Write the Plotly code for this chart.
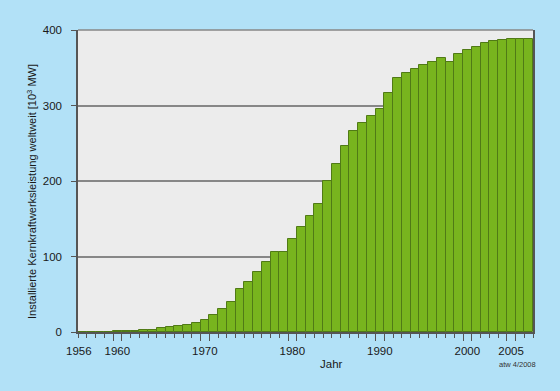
import plotly.graph_objects as go

years = list(range(1956, 2008))
capacity = [
    0.05, 0.1, 0.2, 0.4, 1.0, 1.0, 1.5, 2.5, 3.0, 4.8,
    6.0, 8.3, 9.7, 12.3, 16.3, 23.0, 30.0, 39.5, 56.5, 66.5,
    79.7, 93.1, 106.6, 106.2, 123.2, 139.5, 153.0, 169.5, 199.5, 223.1,
    246.8, 266.8, 277.0, 286.5, 295.8, 316.7, 336.4, 343.4, 348.3, 354.0,
    358.0, 362.4, 358.0, 368.2, 373.9, 377.0, 382.3, 384.9, 386.2, 388.0,
    387.5, 388.4,
]
label_years = [1956, 1960, 1970, 1980, 1990, 2000, 2005]
label_text = ["1956", "1960", "1970", "1980", "1990", "2000", "2005"]
long_tick_years = [1960, 1970, 1980, 1990, 2000, 2005]
y_ticks = [0, 100, 200, 300, 400]

BG = "rgb(178,225,247)"
PLOT_BG = "rgb(236,236,236)"
BAR = "rgb(120,180,30)"
BAR_EDGE = "rgb(80,122,22)"
GRID = "rgb(135,135,135)"
AXIS = "rgb(85,85,85)"
TXT = "rgb(25,25,25)"
FONT = "Liberation Sans, Arial, sans-serif"

boundaries = [y - 0.5 for y in years] + [years[-1] + 0.5]
long_ticks = []
for y in long_tick_years:
    long_ticks += [y - 0.5, y + 0.5]
# label positions (1956 label sits slightly left of its bar centre)
label_pos = [y - 0.4 if y == years[0] else y for y in label_years]

fig = go.Figure()
fig.add_trace(go.Bar(
    x=years, y=capacity, width=1.0,
    marker=dict(color=BAR, line=dict(color=BAR_EDGE, width=1)),
    hoverinfo="x+y", showlegend=False,
))
# invisible trace to carry the label axis
fig.add_trace(go.Scatter(x=[years[0], years[-1]], y=[0, 0], xaxis="x2",
                         mode="markers", marker=dict(opacity=0),
                         showlegend=False, hoverinfo="skip"))

xrange = [years[0] - 0.5, years[-1] + 0.5]
fig.update_layout(
    width=560, height=391,
    margin=dict(l=78, r=27, t=30, b=59),
    paper_bgcolor=BG, plot_bgcolor=PLOT_BG,
    bargap=0,
    font=dict(family=FONT, size=11, color=TXT),
    xaxis=dict(
        range=xrange, showgrid=False, zeroline=False,
        showline=True, linecolor=AXIS, linewidth=1.5,
        tickmode="array", tickvals=long_ticks,
        ticks="outside", ticklen=7, tickcolor=AXIS, tickwidth=1,
        showticklabels=False,
        minor=dict(tickmode="array", tickvals=boundaries, ticks="outside",
                   ticklen=4, tickcolor=AXIS, tickwidth=1, showgrid=False),
    ),
    xaxis2=dict(
        range=xrange, overlaying="x", side="bottom", anchor="y",
        showgrid=False, zeroline=False, showline=False,
        tickmode="array", tickvals=label_pos, ticktext=label_text,
        ticks="", ticklabelstandoff=10,
        tickfont=dict(family=FONT, size=11.5, color=TXT),
    ),
    yaxis=dict(
        range=[0, 400], tickmode="array", tickvals=y_ticks,
        showgrid=True, gridcolor=GRID, gridwidth=1.5, zeroline=False,
        showline=True, linecolor=AXIS, linewidth=1.5, mirror=True,
        ticks="outside", ticklen=5, tickcolor=AXIS,
        ticklabelstandoff=7,
        tickfont=dict(family=FONT, size=11.5, color=TXT),
    ),
    shapes=[dict(type="line", xref="paper", yref="paper", x0=0, x1=1, y0=1, y1=1,
                 line=dict(color=GRID, width=1.5))],
    annotations=[
        dict(text="Installierte Kernkraftwerksleistung weltweit [10<sup>3</sup> MW]",
             xref="paper", yref="paper", x=-0.1025, y=0.465, textangle=-90,
             xanchor="center", yanchor="middle", showarrow=False,
             font=dict(family=FONT, size=11, color=TXT)),
        dict(text="Jahr", xref="paper", yref="paper", x=0.558, y=-0.105,
             xanchor="center", yanchor="middle", showarrow=False,
             font=dict(family=FONT, size=11.5, color=TXT)),
        dict(text="atw 4/2008", xref="paper", yref="paper", x=0.966, y=-0.108,
             xanchor="center", yanchor="middle", showarrow=False,
             font=dict(family=FONT, size=7.5, color="rgb(50,50,50)")),
    ],
)

fig.write_html(
    "out.html",
    config={"displayModeBar": False},
    post_script="document.body.style.margin='0';document.body.style.overflow='hidden';",
)
